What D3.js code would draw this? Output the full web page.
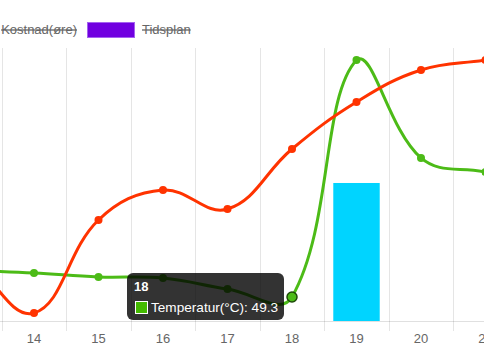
<!DOCTYPE html>
<html>
<head>
<meta charset="utf-8">
<script src="https://cdn.jsdelivr.net/npm/d3@7"></script>
<style>
  html, body { margin: 0; padding: 0; background: #fff; }
  svg { display: block; overflow: hidden; }
</style>
</head>
<body>
<div id="chart"></div>
<script>
// categories (the chart is cropped: 13 lies off the left edge, 21 is cut at the right)
const labels = ['13', '14', '15', '16', '17', '18', '19', '20', '21'];

// Temperatur(°C) - green line
const temperatur = [104, 98.5, 90.3, 88.2, 65.6, 49.3, 535.4, 334.4, 305.6];
// red line (its legend entry is outside the picture)
const rodSerie = [130, 16.4, 207.2, 268.7, 229.7, 352.8, 449.2, 514.9, 535.4];
// cyan bars
const stolper = [0, 0, 0, 0, 0, 0, 283.1, 0, 0];

const legendLabels = ['Kostnad(øre)', 'Tidsplan'];
const legendColors = ['#ff3300', '#7000e0'];

const width = 484, height = 363;
const areaTop = 48, areaBottom = 321;

const svg = d3.create('svg')
  .attr('width', width)
  .attr('height', height)
  .style('font-family', '"Liberation Sans", Arial, sans-serif');

const x = d3.scaleBand()
  .domain(labels)
  .range([-62.75, 517.75]);

const y = d3.scaleLinear()
  .domain([0, 560])
  .range([areaBottom, areaTop]);

const cx = d => x(d) + x.bandwidth() / 2;

// vertical grid lines between categories, running down into tick marks
const gridX = labels.map(d => x(d)).concat([x.range()[1]]);
svg.append('g')
  .selectAll('line')
  .data(gridX)
  .join('line')
    .attr('x1', d => Math.round(d) + 0.5)
    .attr('x2', d => Math.round(d) + 0.5)
    .attr('y1', areaTop)
    .attr('y2', areaBottom + 10)
    .attr('stroke', 'rgba(0,0,0,0.1)')
    .attr('stroke-width', 1);

// x axis base line
svg.append('line')
  .attr('x1', 0).attr('x2', width)
  .attr('y1', areaBottom + 0.5).attr('y2', areaBottom + 0.5)
  .attr('stroke', 'rgba(0,0,0,0.12)');

// tick labels
svg.append('g')
  .selectAll('text')
  .data(labels)
  .join('text')
    .attr('x', d => cx(d))
    .attr('y', areaBottom + 22)
    .attr('text-anchor', 'middle')
    .attr('font-size', 13)
    .attr('fill', '#666')
    .text(d => d);

// bars (barPercentage 0.9 * categoryPercentage 0.8)
const barW = x.bandwidth() * 0.72;
svg.append('g')
  .selectAll('rect')
  .data(labels.map((d, i) => ({ label: d, v: stolper[i] })).filter(d => d.v > 0))
  .join('rect')
    .attr('x', d => cx(d.label) - barW / 2)
    .attr('y', d => y(d.v))
    .attr('width', barW)
    .attr('height', d => y(0) - y(d.v))
    .attr('fill', '#00d4ff');

// Chart.js-style spline (tension 0.4) built from scaled points
function splinePath(values) {
  const pts = labels.map((d, i) => ({ x: cx(d), y: y(values[i]) }));
  const t = 0.4;
  const cps = pts.map((p, i) => {
    const prev = pts[i - 1] || p, next = pts[i + 1] || p;
    const d01 = Math.hypot(p.x - prev.x, p.y - prev.y);
    const d12 = Math.hypot(next.x - p.x, next.y - p.y);
    let s01 = d01 / (d01 + d12), s12 = d12 / (d01 + d12);
    if (isNaN(s01)) s01 = 0;
    if (isNaN(s12)) s12 = 0;
    const fa = t * s01, fb = t * s12;
    const cap = v => Math.max(areaTop, Math.min(areaBottom, v));
    return {
      px: p.x - fa * (next.x - prev.x), py: cap(p.y - fa * (next.y - prev.y)),
      nx: p.x + fb * (next.x - prev.x), ny: cap(p.y + fb * (next.y - prev.y))
    };
  });
  const path = d3.path();
  path.moveTo(pts[0].x, pts[0].y);
  for (let i = 1; i < pts.length; i++) {
    path.bezierCurveTo(cps[i - 1].nx, cps[i - 1].ny, cps[i].px, cps[i].py, pts[i].x, pts[i].y);
  }
  return path.toString();
}

function drawLine(values, color) {
  svg.append('path')
    .attr('d', splinePath(values))
    .attr('fill', 'none')
    .attr('stroke', color)
    .attr('stroke-width', 3);
  svg.append('g')
    .selectAll('circle')
    .data(labels.map((d, i) => ({ label: d, v: values[i] })))
    .join('circle')
      .attr('cx', d => cx(d.label))
      .attr('cy', d => y(d.v))
      .attr('r', 4)
      .attr('fill', color);
}

drawLine(temperatur, '#4cbb17');
drawLine(rodSerie, '#ff3300');

// hovered point
const hover = 5;
svg.append('circle')
  .attr('cx', cx(labels[hover]))
  .attr('cy', y(temperatur[hover]))
  .attr('r', 5)
  .attr('fill', '#4cbb17')
  .attr('stroke', '#1d4a08')
  .attr('stroke-width', 1.5);

// legend (partly outside the picture, both items hidden -> struck through)
const legend = svg.append('g').attr('font-size', 13).attr('fill', '#666');
legend.append('text')
  .attr('x', 77).attr('y', 34)
  .attr('text-anchor', 'end')
  .attr('text-decoration', 'line-through')
  .text(legendLabels[0]);
legend.append('rect')
  .attr('x', 87.5).attr('y', 22.5)
  .attr('width', 47).attr('height', 15)
  .attr('fill', legendColors[1])
  .attr('stroke', '#a462f0');
legend.append('text')
  .attr('x', 142).attr('y', 34)
  .attr('text-decoration', 'line-through')
  .text(legendLabels[1]);

// tooltip
const tip = svg.append('g').attr('transform', 'translate(127,273)');
tip.append('rect')
  .attr('width', 157).attr('height', 47)
  .attr('rx', 6)
  .attr('fill', 'rgba(0,0,0,0.8)');
tip.append('text')
  .attr('x', 7).attr('y', 18)
  .attr('fill', '#fff')
  .attr('font-size', 13)
  .attr('font-weight', 'bold')
  .text(labels[hover]);
tip.append('rect')
  .attr('x', 8.5).attr('y', 28.5)
  .attr('width', 12).attr('height', 12)
  .attr('fill', '#44bb00')
  .attr('stroke', '#fff');
tip.append('text')
  .attr('x', 24).attr('y', 39)
  .attr('fill', '#fff')
  .attr('font-size', 13.6)
  .attr('font-weight', 'normal')
  .text('Temperatur(°C): ' + temperatur[hover]);

d3.select('#chart').node().appendChild(svg.node());
</script>
</body>
</html>
